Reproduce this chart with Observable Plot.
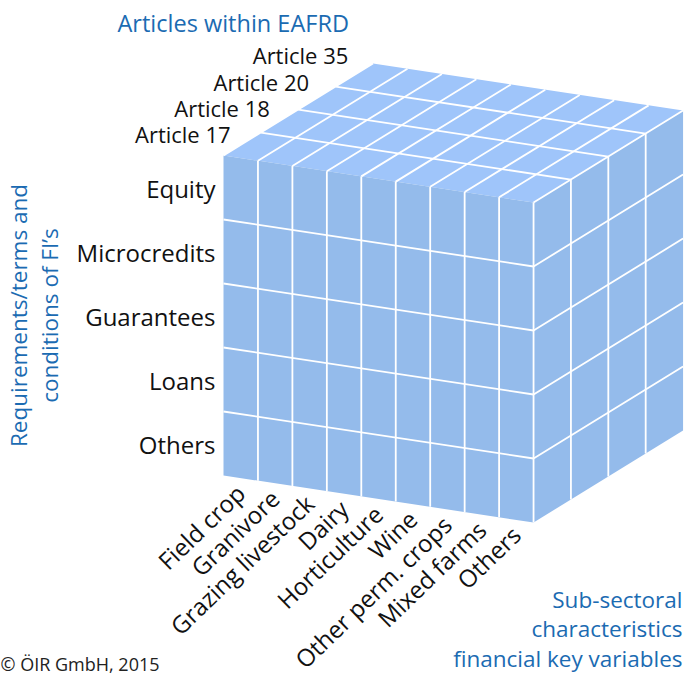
<!DOCTYPE html>
<html><head><meta charset="utf-8">
<script src="https://cdn.jsdelivr.net/npm/d3@7"></script>
<script src="https://cdn.jsdelivr.net/npm/@observablehq/plot@0.6"></script>
<style>body{margin:0;background:#fff} svg{display:block}</style>
</head><body><div id="chart"></div>
<script>
const articles = ["Article 17", "Article 18", "Article 20", "Article 35"];
const instruments = ["Equity", "Microcredits", "Guarantees", "Loans", "Others"];
const sectors = ["Field crop", "Granivore", "Grazing livestock", "Dairy", "Horticulture", "Wine", "Other perm. crops", "Mixed farms", "Others"];
const titleTop = "Articles within EAFRD";
const titleLeft = ["Requirements/terms and", "conditions of FI’s"];
const titleRight = ["Sub-sectoral", "characteristics", "financial key variables"];
const credit = "© ÖIR GmbH, 2015";

// oblique projection: column i, row j, depth k -> scale units
const DX = 1.085, DY = -0.359, SLOPE = 0.0816;
const P = (i, j, k) => [i + DX * k, j + SLOPE * i + DY * k];
const nI = sectors.length, nJ = instruments.length, nK = articles.length;

const poly = (corners) => corners.map(([i, j, k]) => { const [x, y] = P(i, j, k); return {x, y}; });
const frontFace = poly([[0,0,0],[nI,0,0],[nI,nJ,0],[0,nJ,0],[0,0,0]]);
const topFace = poly([[0,0,0],[nI,0,0],[nI,0,nK],[0,0,nK],[0,0,0]]);
const rightFace = poly([[nI,0,0],[nI,0,nK],[nI,nJ,nK],[nI,nJ,0],[nI,0,0]]);

const segs = [];
const seg = (a, b) => { const [x1, y1] = P(...a), [x2, y2] = P(...b); segs.push({x1, y1, x2, y2}); };
sectors.forEach((_, i) => { if (i > 0) seg([i,0,0],[i,nJ,0]); seg([i,0,0],[i,0,nK]); });
instruments.forEach((_, j) => { if (j > 0) { seg([0,j,0],[nI,j,0]); seg([nI,j,0],[nI,j,nK]); } });
articles.forEach((_, k) => { if (k > 0) { seg([0,0,k],[nI,0,k]); seg([nI,0,k],[nI,nJ,k]); } });
seg([nI,0,0],[nI,nJ,0]);
seg([nI,0,0],[nI,0,nK]);

const W = 685, H = 674;
const PXX = 34.45, PXY = 64, OX = 223, OY = 155;
const font = "'Open Sans', sans-serif";
const blue = "#1b6bb2";

const marks = [
  Plot.line(topFace, {x: "x", y: "y", fill: "#9fc5fa", stroke: "none"}),
  Plot.line(frontFace, {x: "x", y: "y", fill: "#94bbeb", stroke: "none"}),
  Plot.line(rightFace, {x: "x", y: "y", fill: "#94bbeb", stroke: "none"}),
  Plot.link(segs, {x1: "x1", y1: "y1", x2: "x2", y2: "y2", stroke: "white", strokeWidth: 1.8}),
  Plot.text(instruments, {x: (d, j) => P(0, j + 0.5, 0)[0], y: (d, j) => P(0, j + 0.5, 0)[1], text: d => d,
    textAnchor: "end", dx: -8, dy: 3, fontSize: 24, fill: "#111"}),
  Plot.text(articles, {x: (d, k) => P(0, -0.23 - 0.035 * k, 1.05 * k + 0.19)[0], y: (d, k) => P(0, -0.23 - 0.035 * k, 1.05 * k + 0.19)[1],
    text: d => d, textAnchor: "end", fontSize: 22, fill: "#111"}),
  Plot.text(sectors, {x: (d, i) => P(i + 0.5, nJ, 0)[0], y: (d, i) => P(i + 0.5, nJ, 0)[1], text: d => d,
    textAnchor: "end", rotate: -44, dx: 1, dy: 12, fontSize: 24, fill: "#111"}),
  Plot.text([titleTop], {frameAnchor: "top-left", text: d => d, textAnchor: "start", lineAnchor: "top", dx: 117, dy: 15, fontSize: 23.5, fill: blue}),
  ...titleLeft.map((t, i) => Plot.text([t], {frameAnchor: "left", y: () => P(0, nJ / 2, 0)[1], text: d => d, rotate: -90,
    textAnchor: "middle", dx: 19 + 31 * i, fontSize: 22.5, fill: blue})),
  Plot.text([titleRight.join("\n")], {frameAnchor: "bottom-right", text: d => d, textAnchor: "end", lineAnchor: "bottom",
    lineHeight: 1.3, dx: -3, dy: -8, fontSize: 22.5, fill: blue}),
  Plot.text([credit], {frameAnchor: "bottom-left", text: d => d, textAnchor: "start", lineAnchor: "bottom", dx: 0, dy: -4, fontSize: 18, fill: "#222"})
];

const chart = Plot.plot({
  width: W, height: H, margin: 0,
  style: {fontFamily: font, background: "white"},
  x: {domain: [-OX / PXX, (W - OX) / PXX], range: [0, W], axis: null},
  y: {domain: [-OY / PXY, (H - OY) / PXY], range: [0, H], axis: null},
  marks
});
document.getElementById("chart").appendChild(chart);
</script>
</body></html>
